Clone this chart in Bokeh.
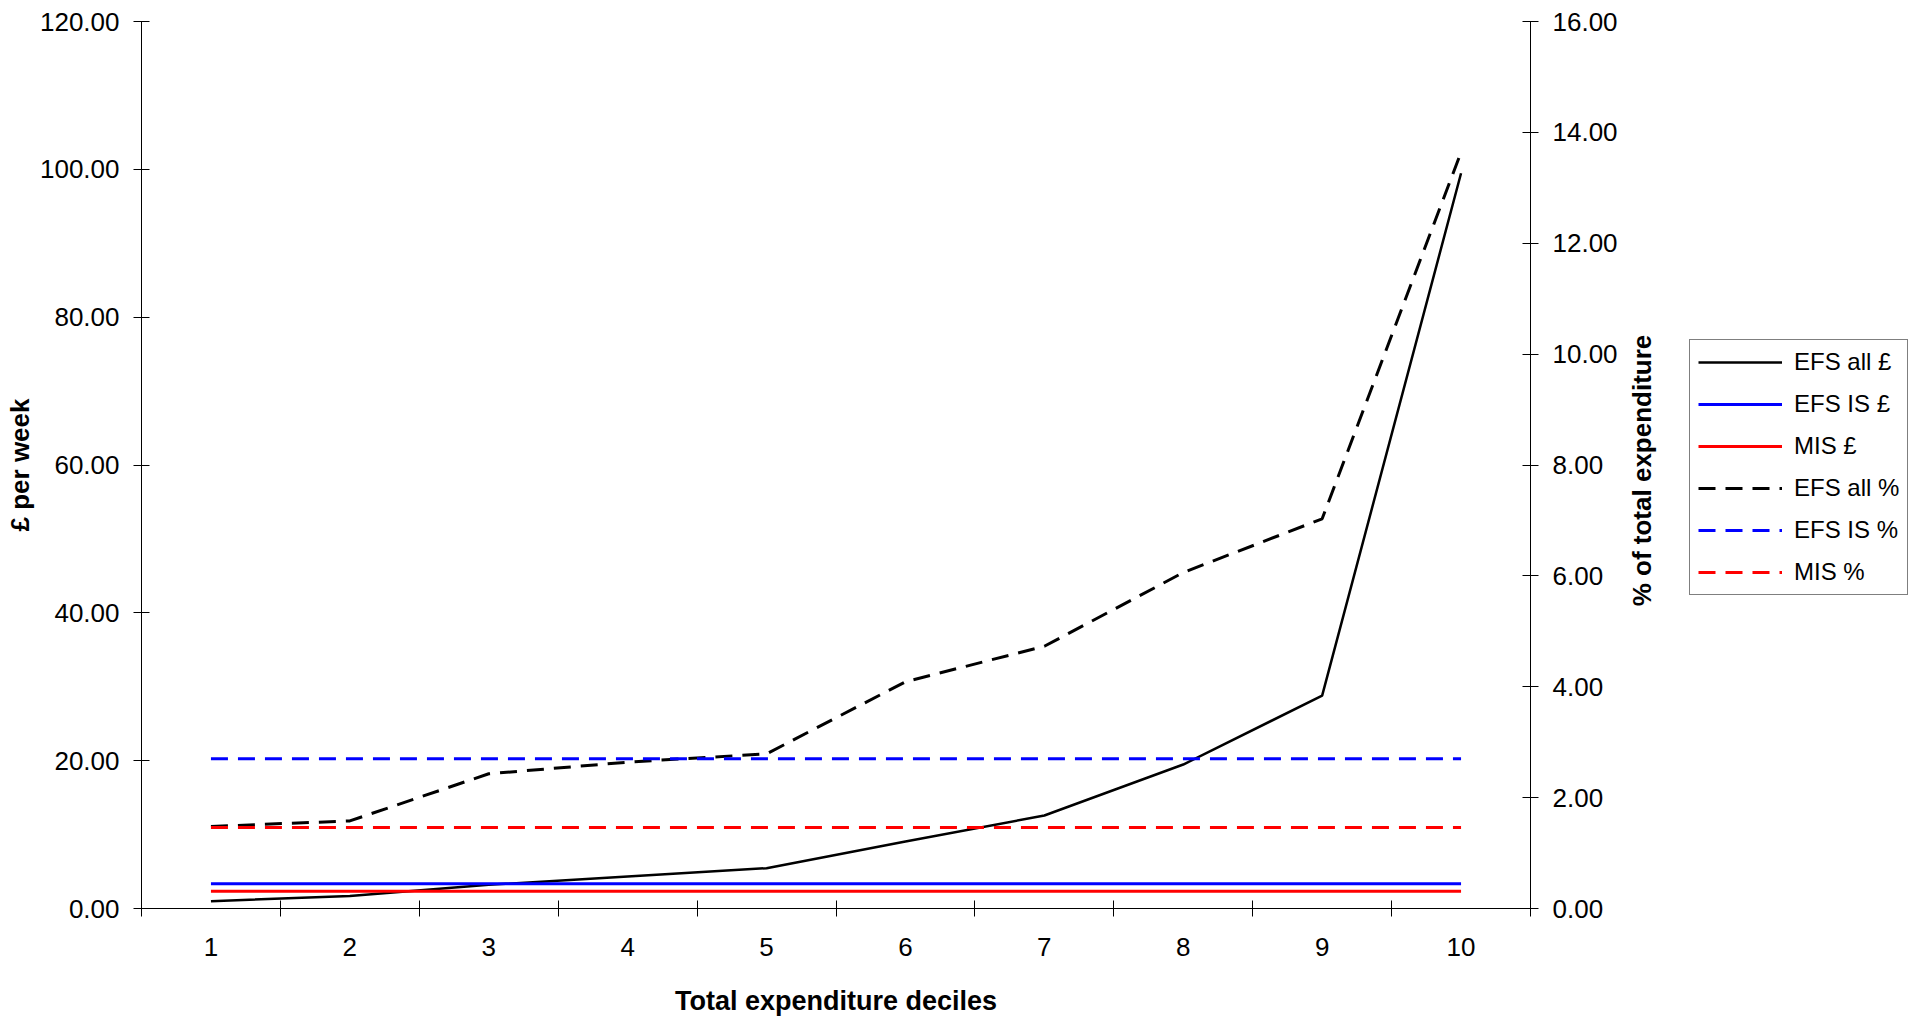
import math
from bokeh.plotting import figure
from bokeh.layouts import row
from bokeh.models import (Range1d, LinearAxis, FixedTicker, NumeralTickFormatter,
                          Legend, LegendItem, Label)
from bokeh.embed import file_html
from bokeh.resources import INLINE

# ---- data ----
deciles = [1, 2, 3, 4, 5, 6, 7, 8, 9, 10]
decile_boundaries = [0.5, 1.5, 2.5, 3.5, 4.5, 5.5, 6.5, 7.5, 8.5, 9.5, 10.5]

efs_all_gbp = [0.99, 1.70, 3.20, 4.33, 5.45, 9.06, 12.58, 19.48, 28.80, 99.47]
efs_is_gbp = [3.34, 3.34, 3.34, 3.34, 3.34, 3.34, 3.34, 3.34, 3.34, 3.34]
mis_gbp = [2.34, 2.34, 2.34, 2.34, 2.34, 2.34, 2.34, 2.34, 2.34, 2.34]

efs_all_pct = [1.48, 1.58, 2.43, 2.64, 2.79, 4.09, 4.73, 6.06, 7.03, 13.64]
efs_is_pct = [2.70, 2.70, 2.70, 2.70, 2.70, 2.70, 2.70, 2.70, 2.70, 2.70]
mis_pct = [1.46, 1.46, 1.46, 1.46, 1.46, 1.46, 1.46, 1.46, 1.46, 1.46]

left_ticks = [0, 20, 40, 60, 80, 100, 120]
right_ticks = [0, 2, 4, 6, 8, 10, 12, 14, 16]

series_labels = ["EFS all £", "EFS IS £", "MIS £", "EFS all %", "EFS IS %", "MIS %"]
x_title = "Total expenditure deciles"
left_title = "£ per week"
right_title = "% of total expenditure"

FONT = "Liberation Sans"
TICK_SIZE = "26px"
TITLE_SIZE = "26px"

H = 1018
TOP = 21
BOTTOM = 110

p = figure(width=1625, height=H,
           x_range=Range1d(0.5, 10.5), y_range=Range1d(0, 120),
           output_backend="svg", toolbar_location=None,
           min_border_left=141, min_border_right=95,
           min_border_top=TOP, min_border_bottom=BOTTOM)
p.outline_line_color = None
p.xgrid.visible = False
p.ygrid.visible = False
p.background_fill_color = "white"
p.border_fill_color = "white"

# x axis
xa = p.xaxis[0]
xa.ticker = FixedTicker(ticks=deciles, minor_ticks=decile_boundaries)
xa.major_tick_in = 0
xa.major_tick_out = 0
xa.minor_tick_in = 8
xa.minor_tick_out = 8
xa.minor_tick_line_color = "black"
xa.major_label_standoff = 21
xa.major_label_text_font = FONT
xa.major_label_text_font_size = TICK_SIZE
xa.major_label_text_color = "black"
xa.axis_label = x_title
xa.axis_label_text_font = FONT
xa.axis_label_text_font_size = "27px"
xa.axis_label_text_font_style = "bold"
xa.axis_label_text_color = "black"
xa.axis_label_standoff = 27
xa.axis_line_color = "black"

# left y axis
ya = p.yaxis[0]
ya.ticker = FixedTicker(ticks=left_ticks)
ya.formatter = NumeralTickFormatter(format="0.00")
ya.major_tick_in = 8
ya.major_tick_out = 8
ya.minor_tick_in = 0
ya.minor_tick_out = 0
ya.major_label_standoff = 14
ya.major_label_text_font = FONT
ya.major_label_text_font_size = TICK_SIZE
ya.major_label_text_color = "black"
ya.axis_label = left_title
ya.axis_label_text_font = FONT
ya.axis_label_text_font_size = TITLE_SIZE
ya.axis_label_text_font_style = "bold"
ya.axis_label_text_color = "black"
ya.axis_label_standoff = 2
ya.axis_line_color = "black"

# right y axis
p.extra_y_ranges = {"pct": Range1d(0, 16)}
ra = LinearAxis(y_range_name="pct", ticker=FixedTicker(ticks=right_ticks),
                formatter=NumeralTickFormatter(format="0.00"))
ra.major_tick_in = 8
ra.major_tick_out = 8
ra.minor_tick_in = 0
ra.minor_tick_out = 0
ra.major_label_standoff = 14
ra.major_label_text_font = FONT
ra.major_label_text_font_size = TICK_SIZE
ra.major_label_text_color = "black"
ra.axis_line_color = "black"
p.add_layout(ra, "right")

# data lines
styles = [
    dict(line_color="#000000", line_width=2.5),
    dict(line_color="#0000FF", line_width=3),
    dict(line_color="#FF0000", line_width=3),
    dict(line_color="#000000", line_width=3, line_dash="17 10"),
    dict(line_color="#0000FF", line_width=3, line_dash="17 10"),
    dict(line_color="#FF0000", line_width=3, line_dash="17 10"),
]
p.line(deciles, efs_all_gbp, **styles[0])
p.line(deciles, efs_is_gbp, **styles[1])
p.line(deciles, mis_gbp, **styles[2])
p.line(deciles, efs_all_pct, y_range_name="pct", **styles[3])
p.line(deciles, efs_is_pct, y_range_name="pct", **styles[4])
p.line(deciles, mis_pct, y_range_name="pct", **styles[5])

# side panel with right-axis title and legend (frame aligned with the main plot)
W2 = 295
FRAME_H = H - TOP - BOTTOM
p2 = figure(width=W2, height=H, x_range=Range1d(0, W2), y_range=Range1d(0, FRAME_H),
            output_backend="svg", toolbar_location=None,
            x_axis_type=None, y_axis_type=None,
            min_border_left=0, min_border_right=0,
            min_border_top=TOP, min_border_bottom=BOTTOM)
p2.outline_line_color = None
p2.background_fill_color = "white"
p2.border_fill_color = "white"

# frame bottom is at page y = TOP + FRAME_H = 908
p2.add_layout(Label(x=1641.7 - 1625, y=908 - 470, x_units="screen", y_units="screen",
                    text=right_title, angle=math.pi / 2,
                    text_align="center", text_baseline="middle",
                    text_font=FONT, text_font_size=TITLE_SIZE,
                    text_font_style="bold", text_color="black"))

items = []
for lab, st in zip(series_labels, styles):
    # legend-only renderer: a single undefined point, nothing is drawn in the frame
    r = p2.line([float("nan")], [float("nan")], **st)
    items.append(LegendItem(label=lab, renderers=[r]))

legend = Legend(items=items, location=(1689 - 1625, 908 - 595))
legend.padding = 8
legend.spacing = 14
legend.margin = 0
legend.glyph_width = 84
legend.glyph_height = 20
legend.label_height = 20
legend.label_standoff = 12
legend.label_text_font = FONT
legend.label_text_font_size = "24px"
legend.label_text_color = "black"
legend.border_line_color = "black"
legend.border_line_width = 1
legend.background_fill_color = "white"
legend.background_fill_alpha = 1
p2.add_layout(legend)

layout = row(p, p2, spacing=0)
open("out.html", "w").write(file_html(layout, INLINE))
